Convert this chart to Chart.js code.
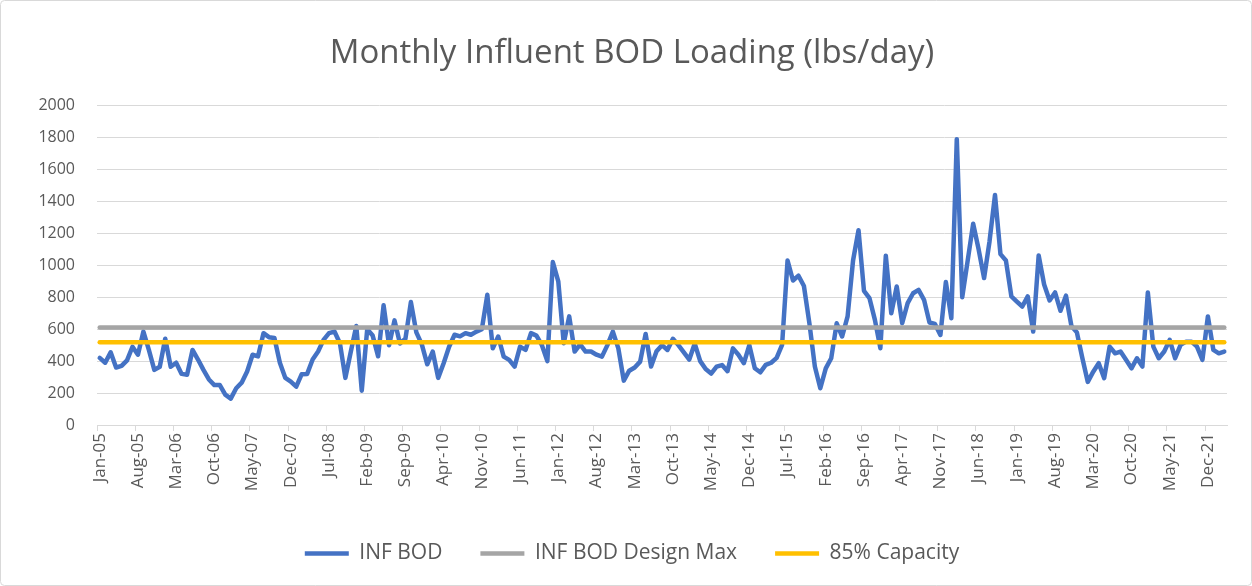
<!DOCTYPE html>
<html>
<head>
<meta charset="utf-8">
<title>Monthly Influent BOD Loading</title>
<script src="https://cdn.jsdelivr.net/npm/chart.js@4.4.1/dist/chart.umd.min.js"></script>
<style>
  body { margin: 0; background: #fff; }
  #wrap { width: 1252px; height: 586px; }
</style>
</head>
<body>
<div id="wrap"><canvas id="myChart" width="1252" height="586"></canvas></div>
<script>
// monthly values, Jan-05 .. Mar-22
const infBod = [
  420, 390, 455, 360, 370, 405, 490, 440, 585, 470, 345, 365,
  540, 365, 390, 320, 315, 470, 410, 345, 285, 250, 250, 190,
  165, 230, 265, 335, 440, 430, 575, 550, 545, 390, 295, 272,
  240, 318, 320, 410, 460, 533, 575, 585, 512, 295, 460, 620,
  215, 600, 560, 430, 750, 500, 655, 510, 540, 770, 580, 505,
  380, 460, 295, 387, 490, 565, 555, 575, 565, 585, 600, 815,
  480, 554, 428, 408, 366, 491, 470, 575, 560, 500, 400, 1020,
  900, 512, 680, 460, 505, 460, 460, 440, 428, 500, 585, 480,
  278, 340, 360, 397, 570, 366, 462, 500, 470, 540, 500, 455,
  410, 510, 400, 350, 322, 365, 375, 337, 480, 440, 387, 500,
  355, 330, 376, 390, 420, 502, 1030, 905, 935, 870, 637, 366,
  230, 355, 418, 637, 554, 680, 1030, 1220, 840, 795, 658, 481,
  1060, 700, 867, 637, 763, 825, 846, 784, 642, 633, 564, 895,
  669, 1790, 800, 1030, 1260, 1100, 920, 1150, 1440, 1070, 1030, 805,
  773, 742, 805, 585, 1062, 880, 780, 830, 715, 810, 620, 580,
  420, 270, 334, 387, 293, 491, 449, 460, 408, 355, 418, 366,
  830, 491, 418, 460, 533, 418, 502, 522, 522, 491, 408, 680,
  470, 449, 460
];
const designMax = 610;
const capacity85 = 518.5;

const monthNames = ["Jan", "Feb", "Mar", "Apr", "May", "Jun", "Jul", "Aug", "Sep", "Oct", "Nov", "Dec"];
const firstYear = 5;
const labelEvery = 7;

const months = infBod.map((v, i) =>
  monthNames[i % 12] + "-" + String(firstYear + Math.floor(i / 12)).padStart(2, "0"));

const gridColor = "#d9d9d9";
const textColor = "#595959";
const plotLeft = 97;
const plotRightGap = 25;
const plotBottom = 425;
const padLeft = 12;
const padBottom = 12;

Chart.defaults.font.family = "'Open Sans', sans-serif";
Chart.defaults.color = textColor;

const borderPlugin = {
  id: "outerBorder",
  afterDraw(chart) {
    const ctx = chart.ctx;
    ctx.save();
    ctx.strokeStyle = gridColor;
    ctx.lineWidth = 1;
    ctx.beginPath();
    ctx.roundRect(0.5, 0.5, chart.width - 1, chart.height - 1, 4);
    ctx.stroke();
    ctx.restore();
  }
};

const ctx = document.getElementById("myChart").getContext("2d");
const myChart = new Chart(ctx, {
  type: "line",
  data: {
    labels: months,
    datasets: [
      {
        label: "INF BOD",
        data: infBod,
        borderColor: "#4472C4",
        backgroundColor: "#4472C4",
        borderWidth: 4.5,
        order: 3
      },
      {
        label: "INF BOD Design Max",
        data: months.map(() => designMax),
        borderColor: "#A5A5A5",
        backgroundColor: "#A5A5A5",
        borderWidth: 4.5,
        order: 2
      },
      {
        label: "85% Capacity",
        data: months.map(() => capacity85),
        borderColor: "#FFC000",
        backgroundColor: "#FFC000",
        borderWidth: 4.5,
        order: 1
      }
    ]
  },
  options: {
    responsive: false,
    animation: false,
    layout: { padding: { left: padLeft, right: 0, top: 0, bottom: padBottom } },
    elements: {
      point: { radius: 0, hoverRadius: 0 },
      line: { tension: 0, borderJoinStyle: "round", borderCapStyle: "round" }
    },
    plugins: {
      title: {
        display: true,
        text: "Monthly Influent BOD Loading (lbs/day)",
        color: textColor,
        font: { size: 33, weight: "normal" },
        padding: { top: 34, bottom: 32 }
      },
      legend: {
        position: "bottom",
        labels: {
          usePointStyle: true,
          pointStyle: "line",
          pointStyleWidth: 44,
          boxHeight: 21,
          padding: 38,
          color: textColor,
          font: { size: 21 },
          sort: (a, b) => a.datasetIndex - b.datasetIndex
        }
      },
      tooltip: { enabled: false }
    },
    scales: {
      x: {
        offset: true,
        grid: {
          offset: true,
          drawOnChartArea: false,
          drawTicks: true,
          tickLength: 6,
          color: (c) => (c.index % labelEvery === 0 ? gridColor : "rgba(0,0,0,0)")
        },
        border: { color: gridColor },
        ticks: {
          autoSkip: false,
          maxRotation: 90,
          minRotation: 90,
          padding: 2,
          font: { size: 17 },
          callback: function (val, idx) {
            return idx % labelEvery === 0 ? this.getLabelForValue(val) : "";
          }
        },
        afterFit: (scale) => {
          const lg = scale.chart.legend;
          scale.height = scale.chart.height - plotBottom - padBottom - (lg ? lg.height : 0);
          scale.paddingRight = plotRightGap;
        }
      },
      y: {
        min: 0,
        max: 2000,
        grid: { color: gridColor, drawTicks: false },
        border: { display: false },
        ticks: {
          stepSize: 200,
          padding: 22,
          font: { size: 16 },
          callback: (v) => String(v)
        },
        afterFit: (scale) => { scale.width = plotLeft - padLeft; }
      }
    }
  },
  plugins: [borderPlugin]
});
</script>
</body>
</html>
